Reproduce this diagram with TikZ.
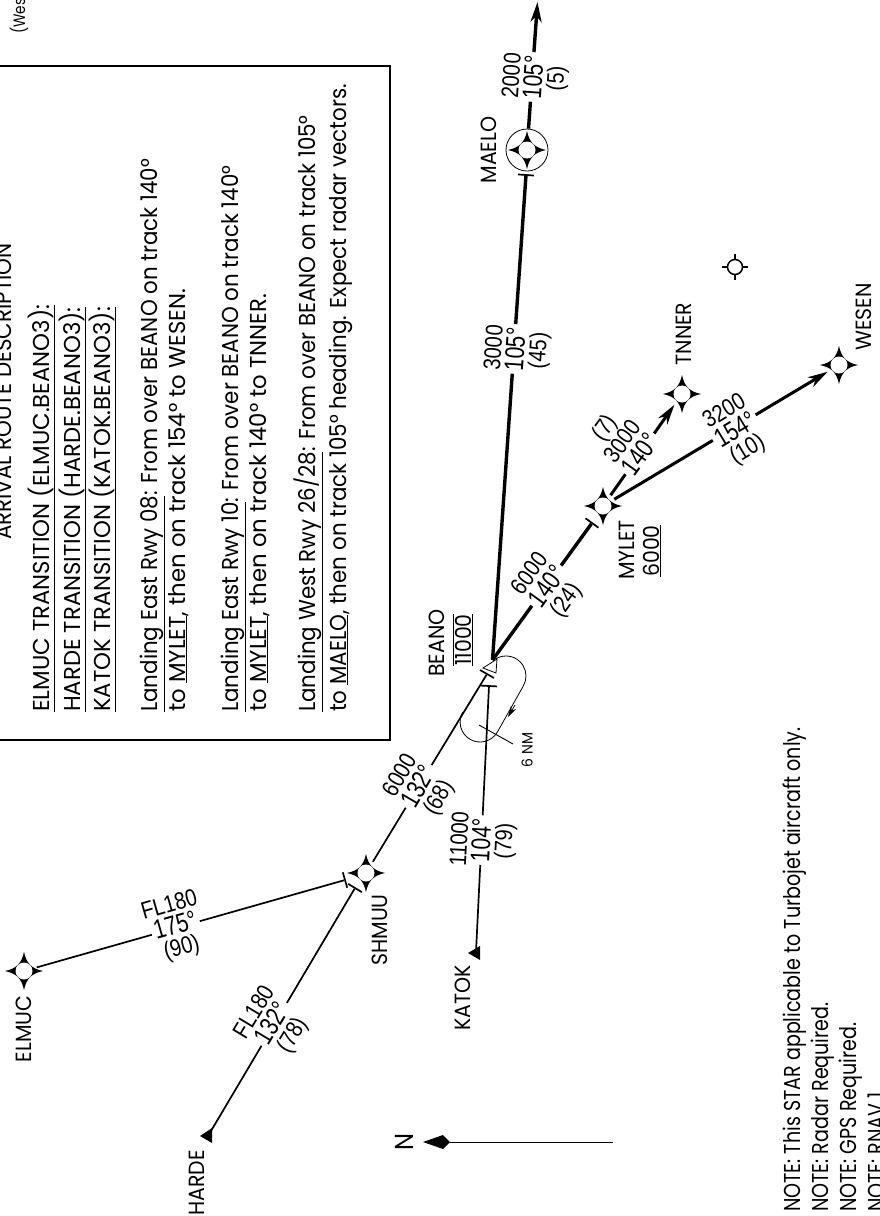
\documentclass[tikz,border=0pt]{standalone}
\usepackage{fontspec}
\setmainfont{Poppins}[FakeStretch=0.93]
\newfontfamily\notefont{Poppins}[FakeStretch=0.83]
\newfontfamily\wideline{Poppins}[FakeStretch=0.99]
\newfontfamily\legfont{Liberation Sans}[FakeStretch=0.78]
\newfontfamily\sidefont{Liberation Sans}[FakeStretch=0.84]
\usetikzlibrary{positioning, arrows.meta}

\tikzset{
    fixstar/.pic={
        \fill (0,-19) .. controls (2.5,-7.5) and (7.5,-2.5) .. (19,0) .. controls (7.5,2.5) and (2.5,7.5) .. (0,19)
            .. controls (-2.5,7.5) and (-7.5,2.5) .. (-19,0) .. controls (-7.5,-2.5) and (-2.5,-7.5) .. (0,-19) -- cycle;
        \fill[white] (0,0) circle (8.5);
    }
}

% course, with the altitude above it and the distance below it
\newcommand{\legtag}[6]{
    \node[legcourse, rotate=#3] (#1) at (#2) {#5};
    \node[legside, rotate=#3, anchor=south] at (#1.north) {#4};
    \node[legside, rotate=#3, anchor=north] at (#1.south) {#6};
}

\begin{document}
\begin{tikzpicture}[
            x=1pt, y=-1pt,
            fixnode/.style={circle, minimum size=26pt, inner sep=0pt},
            compnode/.style={circle, draw, fill=white, line width=0.8pt, minimum size=42pt, inner sep=0pt},
            ticknode/.style={rectangle, fill=black, minimum width=1.7pt, minimum height=16pt, inner sep=0pt},
            legmain/.style={line width=3.4pt},
            legfeed/.style={line width=1.7pt},
            legtip/.style={-{Stealth[length=20pt, width=11pt, inset=6pt]}},
            legcourse/.style={fill=white, font=\legfont\fontsize{27}{27}\selectfont, inner xsep=3pt, inner ysep=3.5pt},
            legside/.style={font=\sidefont\fontsize{24}{23}\selectfont, inner sep=0pt, align=center},
            fixname/.style={rotate=90, font=\fontsize{22}{22}\selectfont, inner sep=0pt},
            boxtext/.style={rotate=90, anchor=base west, inner sep=0pt, font=\fontsize{23}{23}\selectfont},
            notetext/.style={rotate=90, anchor=base west, inner sep=0pt, font=\notefont\fontsize{23}{23}\selectfont}
        ]
            \useasboundingbox (0,0) rectangle (880,1216);

            % --- Description box ---
            \draw[line width=1.5pt] (-10,66) -- (390,66) -- (390,740) -- (-10,740);
            \node[boxtext] (title) at (12,540) {ARRIVAL ROUTE DESCRIPTION};
            \node[boxtext] (trelmuc) at (49,712) {\wideline\underline{ELMUC TRANSITION (ELMUC.BEANO3):}};
            \node[boxtext] (trharde) at (80,712) {\wideline\underline{HARDE TRANSITION (HARDE.BEANO3):}};
            \node[boxtext] (trkatok) at (110,712) {\wideline\underline{KATOK TRANSITION (KATOK.BEANO3):}};
            \node[boxtext] (easta) at (157,712) {\underline{Landing East Rwy 08}: From over BEANO on track 140°};
            \node[boxtext] (eastb) at (185,712) {\wideline to \underline{MYLET}, then on track 154° to WESEN.};
            \node[boxtext] (eastc) at (238,712) {\underline{Landing East Rwy 10}: From over BEANO on track 140°};
            \node[boxtext] (eastd) at (266,712) {\wideline to \underline{MYLET}, then on track 140° to TNNER.};
            \node[boxtext] (westa) at (315,712) {\underline{Landing West Rwy 26/28}: From over BEANO on track 105°};
            \node[boxtext] (westb) at (346,712) {to \underline{MAELO}, then on track 105° heading. Expect radar vectors.};

            % --- Fixes ---
            \node[fixnode] (elmuc) at (24,971) {};
            \node[fixnode] (shmuu) at (366,873) {};
            \node[fixnode] (mylet) at (603,506) {};
            \node[fixnode] (tnner) at (682,394) {};
            \node[fixnode] (wesen) at (839,365) {};
            \node[compnode] (maelo) at (527,150) {};
            \coordinate (beano) at (492.5,660);
            \coordinate (harde) at (208,1136);
            \coordinate (katok) at (476,952);
            \coordinate (exit) at (537.5,2);

            % Ticks in front of the fixes
            \node[ticknode, rotate=16] (tickshmuua) at (345,880) {};
            \node[ticknode, rotate=59] (tickshmuub) at (355,888) {};
            \node[ticknode, rotate=60] (tickbeanoa) at (487,674) {};
            \node[ticknode, rotate=87] (tickbeanob) at (489,686) {};
            \node[ticknode, rotate=54] (tickmylet) at (592,523) {};
            \node[ticknode, rotate=86] (tickmaelo) at (526,175) {};

            % --- Routes ---
            \draw[legfeed] (elmuc) -- (tickshmuua);
            \draw[legfeed] (harde) -- (tickshmuub);
            \draw[legfeed] (shmuu) -- (tickbeanoa);
            \draw[legfeed] (katok) -- (tickbeanob);
            \draw[legmain] (beano) -- (tickmylet);
            \draw[legmain] (beano) -- (tickmaelo);
            \draw[legmain, legtip] (maelo) -- (exit);
            \draw[legmain, legtip, line width=3pt] (mylet) -- (tnner);
            \draw[legmain, legtip, line width=3pt] (mylet) -- (wesen);

            % Holding pattern
            \draw[line width=0.8pt] (495.4,659) arc (238:390:20) -- (497.4,732) arc (30:210:20);
            \draw[line width=0.8pt, -{Stealth[length=11pt, width=6pt]}] (515,705) -- (508,717);
            \draw[line width=0.9pt] (479,725) -- (513,744);
            \node[rotate=90, inner sep=0pt, font=\fontsize{15}{15}\selectfont] (holdnm) at (527,750) {6 NM};

            % Symbols on top of the routes
            \pic at (elmuc) {fixstar};
            \pic at (shmuu) {fixstar};
            \pic at (mylet) {fixstar};
            \pic at (tnner) {fixstar};
            \pic at (wesen) {fixstar};
            \pic at (maelo) {fixstar};
            \filldraw[fill=white, line width=0.8pt] (497,659) -- (483,668) -- (496,673) -- cycle;
            \fill (200,1136) -- (212,1128) -- (212,1143) -- cycle;
            \fill (468,953) -- (480,946) -- (480,960) -- cycle;

            % Unnamed fix
            \node[circle, draw, line width=1.5pt, minimum size=15pt, inner sep=0pt] (target) at (735,267) {};
            \draw[line width=1.5pt] (target.north) -- ++(0,-5);
            \draw[line width=1.5pt] (target.south) -- ++(0,5);
            \draw[line width=1.5pt] (target.east) -- ++(5,0);
            \draw[line width=1.5pt] (target.west) -- ++(-5,0);

            % --- Leg labels ---
            \legtag{legelmuc}{175,925}{16}{FL180}{175°}{(90)}
            \legtag{legharde}{272,1023}{59}{FL180}{132°}{(78)}
            \legtag{legshmuu}{418,786}{60}{6000}{132°}{(68)}
            \legtag{legkatok}{481,840}{87}{11000}{104°}{(79)}
            \legtag{legmylet}{547,586}{54}{6000}{140°}{(24)}
            \legtag{legtnner}{640,454}{54}{(7)\\3000}{140°}{}
            \legtag{legwesen}{735,429}{31}{3200}{154°}{(10)}
            \legtag{legbeano}{515,349}{86}{3000}{105°}{(45)}
            \legtag{legmaelo}{533,77}{86}{2000}{105°}{(5)}

            % --- Fix names ---
            \node[fixname] (nelmuc) at (24,1029) {ELMUC};
            \node[fixname] (nharde) at (197,1183) {HARDE};
            \node[fixname] (nshmuu) at (380,930) {SHMUU};
            \node[fixname] (nkatok) at (463,998) {KATOK};
            \node[fixname] (nbeano) at (437,643) {BEANO};
            \node[fixname] (abeano) at (463,640) {$\overline{\underline{\mbox{11000}}}$};
            \node[fixname] (nmylet) at (627,550) {MYLET};
            \node[fixname] (amylet) at (652,551) {\underline{6000}};
            \node[fixname] (nmaelo) at (489,150) {MAELO};
            \node[fixname] (ntnner) at (684,334) {TNNER};
            \node[fixname] (nwesen) at (864,317) {WESEN};

            % North arrow
            \node[fixname, font=\fontsize{26}{26}\selectfont] (north) at (404,1142) {N};
            \draw[line width=0.9pt] (450,1142) -- (613,1142);
            \fill (423,1142) -- (443,1135) -- (450,1142) -- (443,1149) -- cycle;

            % --- Notes ---
            \node[notetext] (notea) at (800,1212) {NOTE: This STAR applicable to Turbojet aircraft only.};
            \node[notetext] (noteb) at (828,1212) {NOTE: Radar Required.};
            \node[notetext] (notec) at (856,1212) {NOTE: GPS Required.};
            \node[notetext] (noted) at (884,1212) {NOTE: RNAV 1};

            \node[rotate=90, anchor=base west, inner sep=0pt, font=\notefont\fontsize{16.5}{16.5}\selectfont] (region) at (25,34) {(Wes};
        \end{tikzpicture}
\end{document}
